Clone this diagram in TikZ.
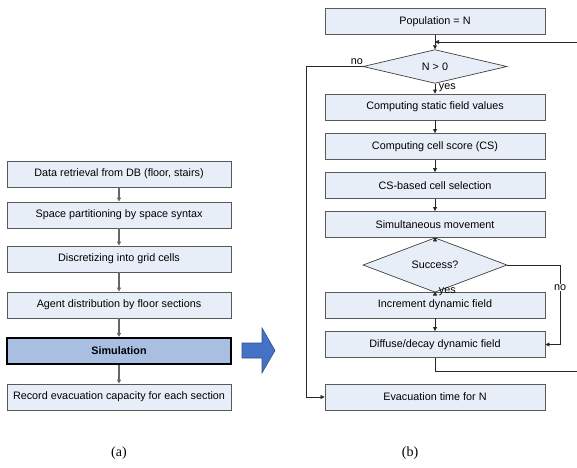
\documentclass[tikz,border=0pt]{standalone}
\usepackage{fontspec}
\setmainfont{Liberation Sans}
\newfontfamily\capfont{Liberation Serif}
\usetikzlibrary{shapes.geometric,arrows.meta}
\definecolor{boxfill}{HTML}{E8EEF8}
\definecolor{simfill}{HTML}{A9BFE1}
\definecolor{bigarrow}{HTML}{4472C4}
\definecolor{bigarrowline}{HTML}{2F528F}
\begin{document}
\begin{tikzpicture}[x=1pt,y=-1pt]

    \tikzset{
      stepbox/.style={
        draw=black!65,
        fill=boxfill,
        line width=0.9pt,
        minimum height=26pt,
        inner sep=0pt,
        font=\fontsize{10.8}{12}\selectfont,
      },
      leftbox/.style={stepbox, minimum width=224pt},
      rightbox/.style={stepbox, minimum width=220pt},
      simbox/.style={leftbox, fill=simfill, draw=black, line width=2pt, font=\fontsize{10.8}{12}\selectfont\bfseries},
      decision/.style={
        diamond,
        draw=black!75,
        fill=boxfill,
        line width=0.7pt,
        minimum width=144pt,
        minimum height=29pt,
        inner sep=0pt,
        font=\fontsize{10.8}{12}\selectfont,
      },
      grayflow/.style={draw=black!60, line width=1.2pt, -{Triangle[length=4pt,width=4pt]}},
      flow/.style={draw=black!85, line width=0.7pt, -{Triangle[length=4pt,width=4pt]}},
      plainflow/.style={draw=black!85, line width=0.7pt},
      tag/.style={inner sep=0.5pt, font=\fontsize{10.8}{12}\selectfont},
    }
    \useasboundingbox (0,0) rectangle (577,467);

    % (a)
    \node[leftbox] (data) at (119,174) {Data retrieval from DB (floor, stairs)};
    \node[leftbox] (space) at (119,215) {Space partitioning by space syntax};
    \node[leftbox] (grid) at (119,259) {Discretizing into grid cells};
    \node[leftbox] (agent) at (119,305) {Agent distribution by floor sections};
    \node[simbox] (simul) at (119,351) {Simulation};
    \node[leftbox] (record) at (119,397) {Record evacuation capacity for each section};
    \draw[grayflow] (data) -- (space);
    \draw[grayflow] (space) -- (grid);
    \draw[grayflow] (grid) -- (agent);
    \draw[grayflow] (agent) -- (simul);
    \draw[grayflow] (simul) -- (record);

    \draw[fill=bigarrow, draw=bigarrowline, line width=0.6pt]
      (242,343) -- (262,343) -- (262,328) -- (275,350.5) -- (262,373) -- (262,358) -- (242,358) -- cycle;

    % (b)
    \node[rightbox] (pop) at (435,21.5) {Population = N};
    \node[decision] (cond) at (435,66.5) {N > 0};
    \node[rightbox] (static) at (435,107) {Computing static field values};
    \node[rightbox] (score) at (435,146.5) {Computing cell score (CS)};
    \node[rightbox] (select) at (435,185.5) {CS-based cell selection};
    \node[rightbox] (move) at (435,224.5) {Simultaneous movement};
    \node[decision] (success) at (435,265) {Success?};
    \node[rightbox] (incr) at (435,305) {Increment dynamic field};
    \node[rightbox] (decay) at (435,344.5) {Diffuse/decay dynamic field};
    \node[rightbox] (evac) at (435,397) {Evacuation time for N};

    \coordinate (loopin) at (577,42);
    \coordinate (loopout) at (577,371);
    \coordinate (nocorner) at (306,66.5);
    \coordinate (failcorner) at (560,265);

    \draw[flow] (pop) -- (cond);
    \draw[flow] (loopin) -- (pop.south |- loopin);
    \draw[flow] (cond) -- node[tag, pos=0.4, anchor=west, xshift=3pt] {yes} (static);
    \draw[flow] (static) -- (score);
    \draw[flow] (score) -- (select);
    \draw[flow] (select) -- (move);
    \draw[flow] (move) -- (success);
    \draw[flow] (success) -- node[tag, pos=0.4, anchor=west, xshift=3pt] {yes} (incr);
    \draw[flow] (incr) -- (decay);
    \draw[plainflow] (decay.south) -- (decay.south |- loopout) -- (loopout);
    \draw[flow] (success.east) -- (failcorner) -- node[tag, pos=0.28, fill=white] {no} (failcorner |- decay) -- (decay.east);
    \draw[flow] (cond.west) -- node[tag, pos=0.1, above=1pt] {no} (nocorner) -- (nocorner |- evac) -- (evac.west);

    \node[font=\capfont\fontsize{14}{16}\selectfont] (capa) at (119,453) {(a)};
    \node[font=\capfont\fontsize{14}{16}\selectfont] (capb) at (410,453) {(b)};

\end{tikzpicture}
\end{document}
